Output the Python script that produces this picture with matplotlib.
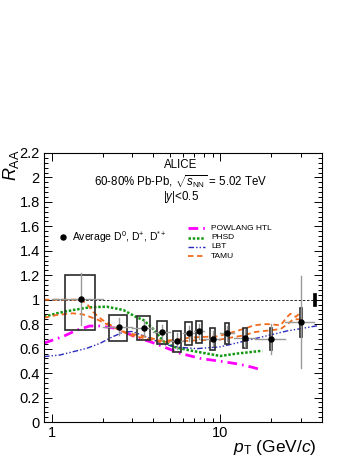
import matplotlib
matplotlib.use("Agg")
import matplotlib.pyplot as plt
from matplotlib.patches import Rectangle
from matplotlib.lines import Line2D
from matplotlib.ticker import FixedLocator, NullFormatter, FuncFormatter, MultipleLocator

plt.rcParams['font.family'] = ['Liberation Sans', 'DejaVu Sans']
plt.rcParams['mathtext.fontset'] = 'custom'
plt.rcParams['mathtext.rm'] = 'Liberation Sans'
plt.rcParams['mathtext.it'] = 'Liberation Sans:italic'
plt.rcParams['mathtext.bf'] = 'Liberation Sans:bold'

# average D meson RAA, 60-80% Pb-Pb
pt_lo = [1, 2, 3, 4, 5, 6, 7, 8, 10, 12, 16, 24]
pt_hi = [2, 3, 4, 5, 6, 7, 8, 10, 12, 16, 24, 36]
pt = [1.5, 2.5, 3.5, 4.5, 5.5, 6.5, 7.5, 9, 11, 14, 20, 30]
raa = [1.005, 0.78, 0.77, 0.733, 0.662, 0.725, 0.741, 0.681, 0.725, 0.687, 0.679, 0.815]
stat = [0.21, 0.07, 0.065, 0.062, 0.062, 0.06, 0.06, 0.06, 0.06, 0.07, 0.12, 0.375]
syst_hi = [1.20, 0.875, 0.866, 0.826, 0.747, 0.815, 0.83, 0.766, 0.81, 0.766, 0.766, 0.935]
syst_lo = [0.75, 0.66, 0.67, 0.635, 0.572, 0.627, 0.643, 0.589, 0.635, 0.608, 0.59, 0.693]
norm_unc = 0.055

# models
powlang_pt = [0.9, 1.17, 1.4, 1.68, 1.93, 2.43, 3.2, 3.83, 4.6, 5.8, 7.6, 10.4, 12.8, 15.5, 17.7]
powlang_r = [0.645, 0.70, 0.75, 0.785, 0.785, 0.765, 0.69, 0.657, 0.615, 0.561, 0.52, 0.493, 0.474, 0.447, 0.425]

phsd_pt = [0.9, 1.07, 1.34, 1.68, 2.12, 2.66, 3.2, 3.5, 4.0, 4.6, 5.27, 6.33, 8.3, 10, 12.6, 15.8, 17.7]
phsd_r = [0.86, 0.889, 0.916, 0.938, 0.943, 0.916, 0.855, 0.834, 0.76, 0.66, 0.615, 0.59, 0.56, 0.54, 0.56, 0.575, 0.583]

lbt_pt = [0.9, 1.12, 1.34, 1.61, 1.93, 2.32, 2.66, 3.0, 3.83, 4.6, 5.8, 7.25, 10, 15.8, 24.9, 37.5]
lbt_r = [0.535, 0.548, 0.575, 0.602, 0.643, 0.70, 0.735, 0.74, 0.684, 0.635, 0.61, 0.60, 0.615, 0.68, 0.745, 0.787]

tamu_up_pt = [0.9, 1.2, 1.47, 1.61, 1.76, 1.93, 2.12, 2.43, 2.78, 3.0, 3.8, 4.4, 5.3, 6.6, 7.6, 9.6,
              11.5, 14, 15.8, 18, 19.8, 22.7, 24.9, 26, 28, 30]
tamu_up_r = [1.0, 1.0, 1.0, 0.97, 0.90, 0.85, 0.81, 0.766, 0.73, 0.72, 0.69, 0.665, 0.67, 0.69, 0.695, 0.70,
             0.73, 0.765, 0.79, 0.80, 0.80, 0.79, 0.86, 0.885, 0.86, 0.90]
tamu_lo_pt = [0.9, 1.07, 1.33, 1.53, 1.85, 2.12, 2.47, 2.91, 3.8, 4.4, 5.3, 6.6, 7.6, 9.6, 11.5, 14,
              15.8, 19.8, 22.7, 25, 27, 30]
tamu_lo_r = [0.852, 0.875, 0.889, 0.88, 0.84, 0.80, 0.758, 0.71, 0.675, 0.655, 0.655, 0.665, 0.67, 0.67, 0.69, 0.71,
             0.735, 0.75, 0.76, 0.80, 0.84, 0.84]

W, H = 357, 462
fig = plt.figure(figsize=(W / 100, H / 100), dpi=100)
ax = fig.add_axes([44 / W, 1 - 422 / H, 278 / W, 269 / H])
ax.set_xscale('log')
ax.set_xlim(0.9, 40)
ax.set_ylim(0, 2.2)

pink = '#ff00ff'
green = '#119911'
blue = '#2b2bbb'
orange = '#f26a1b'

ax.axhline(1, color='black', lw=0.6, dashes=(3, 2), zorder=1)

ax.plot(powlang_pt, powlang_r, color=pink, lw=2, dashes=(3.5, 1.8, 0.6, 1.8), zorder=2)
ax.plot(phsd_pt, phsd_r, color=green, lw=1.8, dashes=(1, 0.7), zorder=2)
ax.plot(lbt_pt, lbt_r, color=blue, lw=1, dashes=(4, 1.5, 1, 1.5, 1, 1.5), zorder=2)
ax.plot(tamu_up_pt, tamu_up_r, color=orange, lw=1.3, dashes=(3, 2), zorder=2)
ax.plot(tamu_lo_pt, tamu_lo_r, color=orange, lw=1.3, dashes=(3, 2), zorder=2)

for i in range(len(pt)):
    ax.add_patch(Rectangle((pt[i] - 0.3, syst_lo[i]), 0.6, syst_hi[i] - syst_lo[i],
                           fill=False, edgecolor='#2a2a2a', lw=1.2, zorder=3))
    ax.plot([pt_lo[i], pt_hi[i]], [raa[i], raa[i]], color='#999999', lw=1, zorder=3)
    ax.plot([pt[i], pt[i]], [raa[i] - stat[i], raa[i] + stat[i]], color='#999999', lw=1, zorder=3)
ax.plot(pt, raa, 'o', color='black', ms=3.6, zorder=4)

ax.add_patch(Rectangle((35.2, 1 - norm_unc), 1.6, 2 * norm_unc, facecolor='black',
                       edgecolor='black', lw=0.5, zorder=4))

# axes style
ax.tick_params(which='both', direction='in', top=True, right=True, labelsize=10.5, pad=3)
ax.tick_params(which='major', length=6, width=0.7)
ax.tick_params(which='minor', length=3, width=0.7)
ax.xaxis.set_major_locator(FixedLocator([1, 10]))
ax.xaxis.set_minor_locator(FixedLocator([2, 3, 4, 5, 6, 7, 8, 9, 20, 30, 40]))
ax.xaxis.set_minor_formatter(NullFormatter())
ax.xaxis.set_major_formatter(FuncFormatter(lambda v, p: '%g' % v))
ax.yaxis.set_major_locator(MultipleLocator(0.2))
ax.yaxis.set_minor_locator(MultipleLocator(0.04))
ax.yaxis.set_major_formatter(FuncFormatter(lambda v, p: '%g' % round(v, 2)))
for s in ax.spines.values():
    s.set_linewidth(0.8)

fig.text(11 / W, 1 - 149 / H, r'$R_{\rm AA}$', rotation=90, ha='center', va='top', fontsize=13)
fig.text(317 / W, 1 - 457 / H, r'$p_{\rm T}$ (GeV/$c$)', ha='right', va='bottom', fontsize=12.5)

fig.text(181 / W, 1 - 165 / H, 'ALICE', ha='center', va='center', fontsize=8.3)
fig.text(181 / W, 1 - 181.5 / H, r'60-80% Pb-Pb, $\sqrt{s_{\rm NN}}$ = 5.02 TeV', ha='center', va='center', fontsize=8.3)
fig.text(181 / W, 1 - 197 / H, r'|$y$|<0.5', ha='center', va='center', fontsize=8.3)

fig.add_artist(Line2D([63 / W], [1 - 237 / H], marker='o', color='black', ms=3.6, transform=fig.transFigure))
fig.text(72 / W, 1 - 237 / H, r'Average D$^{0}$, D$^{+}$, D$^{*+}$', ha='left', va='center', fontsize=7.5)

leg_names = ['POWLANG HTL', 'PHSD', 'LBT', 'TAMU']
leg_y = [228.3, 237.7, 246.7, 256.3]
leg_styles = [dict(color=pink, lw=2, dashes=(3.5, 1.8, 0.6, 1.8)),
              dict(color=green, lw=1.8, dashes=(1, 0.7)),
              dict(color=blue, lw=1, dashes=(4, 1.5, 1, 1.5, 1, 1.5)),
              dict(color=orange, lw=1.3, dashes=(3, 2))]
for name, y, st in zip(leg_names, leg_y, leg_styles):
    fig.add_artist(Line2D([188 / W, 205 / W], [1 - y / H, 1 - y / H], transform=fig.transFigure, **st))
    fig.text(211 / W, 1 - y / H, name, ha='left', va='center', fontsize=6)

fig.savefig('out.png', dpi=100)
